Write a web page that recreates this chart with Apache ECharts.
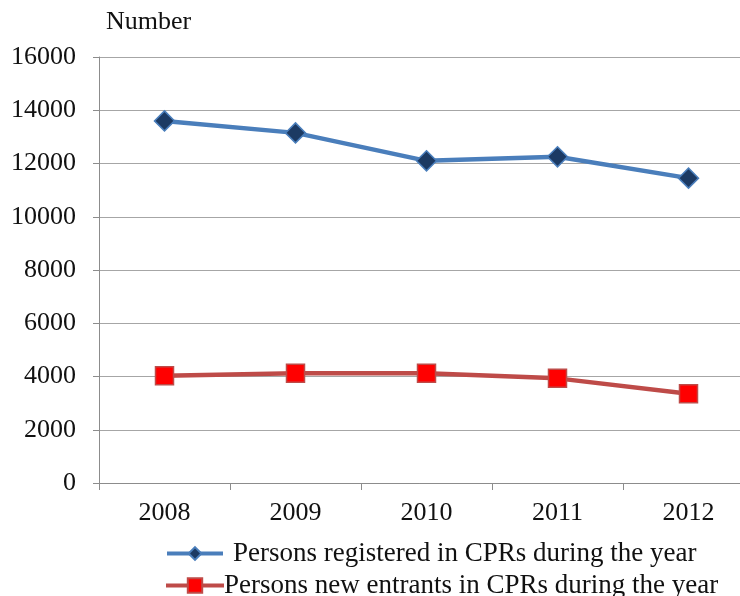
<!DOCTYPE html>
<html>
<head>
<meta charset="utf-8">
<script src="https://cdn.jsdelivr.net/npm/echarts@6/dist/echarts.min.js"></script>
<style>
  html, body { margin: 0; padding: 0; background: #fff; }
  #chart { width: 740px; height: 596px; }
</style>
</head>
<body>
<div id="chart"></div>
<script>
// values
const years = ['2008', '2009', '2010', '2011', '2012'];
const registered = [13600, 13150, 12100, 12250, 11450];
const newEntrants = [4030, 4120, 4120, 3930, 3350];
const yTicks = { min: 0, max: 16000, interval: 2000 };
const seriesNames = ['Persons registered in CPRs during the year', 'Persons new entrants in CPRs during the year'];

const serif = '"Liberation Serif", "Times New Roman", serif';

const chart = echarts.init(document.getElementById('chart'));
const option = {
  animation: false,
  backgroundColor: '#fff',
  textStyle: { fontFamily: serif },
  // the plot runs a little past the right edge of the picture
  grid: { left: 99, top: 57, right: -14, bottom: 113, containLabel: false, outerBoundsMode: 'none' },
  // one legend per row so the two rows stay stacked
  legend: [
    {
      left: 160, top: 535, itemWidth: 56, itemHeight: 16,
      lineStyle: { width: 4 },
      textStyle: { fontFamily: serif, fontSize: 27, color: '#111', padding: [0, 0, 0, 5] },
      data: [seriesNames[0]]
    },
    {
      left: 159, top: 567, itemWidth: 58, itemHeight: 18,
      lineStyle: { width: 4 },
      textStyle: { fontFamily: serif, fontSize: 27, color: '#111', padding: [0, 0, 0, -5] },
      data: [seriesNames[1]]
    }
  ],
  xAxis: {
    type: 'category',
    data: years,
    boundaryGap: true,
    axisLine: { lineStyle: { color: '#8c8c8c', width: 1 } },
    axisTick: { show: true, length: 7, lineStyle: { color: '#8c8c8c' } },
    axisLabel: { margin: 17, fontFamily: serif, fontSize: 26, color: '#111' }
  },
  yAxis: {
    type: 'value',
    min: yTicks.min,
    max: yTicks.max,
    interval: yTicks.interval,
    name: 'Number',
    nameLocation: 'end',
    nameGap: 22,
    nameTextStyle: { fontFamily: serif, fontSize: 26, color: '#111', align: 'left', padding: [0, 0, 0, 7] },
    axisLine: { show: true, lineStyle: { color: '#8c8c8c', width: 1 } },
    axisTick: { show: true, length: 6, lineStyle: { color: '#8c8c8c' } },
    axisLabel: { margin: 23, fontFamily: serif, fontSize: 26, color: '#111', formatter: (v) => String(v) },
    splitLine: { lineStyle: { color: '#a6a6a6', width: 1 } }
  },
  series: [
    {
      name: seriesNames[0],
      type: 'line',
      data: registered,
      symbol: 'diamond',
      symbolSize: 20,
      lineStyle: { color: '#4a7ebb', width: 4.5 },
      itemStyle: { color: '#1c3a63', borderColor: '#4a7ebb', borderWidth: 1.5 }
    },
    {
      name: seriesNames[1],
      type: 'line',
      data: newEntrants,
      symbol: 'rect',
      symbolSize: 18,
      lineStyle: { color: '#be4b48', width: 4.5 },
      itemStyle: { color: '#ff0000', borderColor: '#be4b48', borderWidth: 1.5 }
    }
  ]
};
chart.setOption(option);
</script>
</body>
</html>
